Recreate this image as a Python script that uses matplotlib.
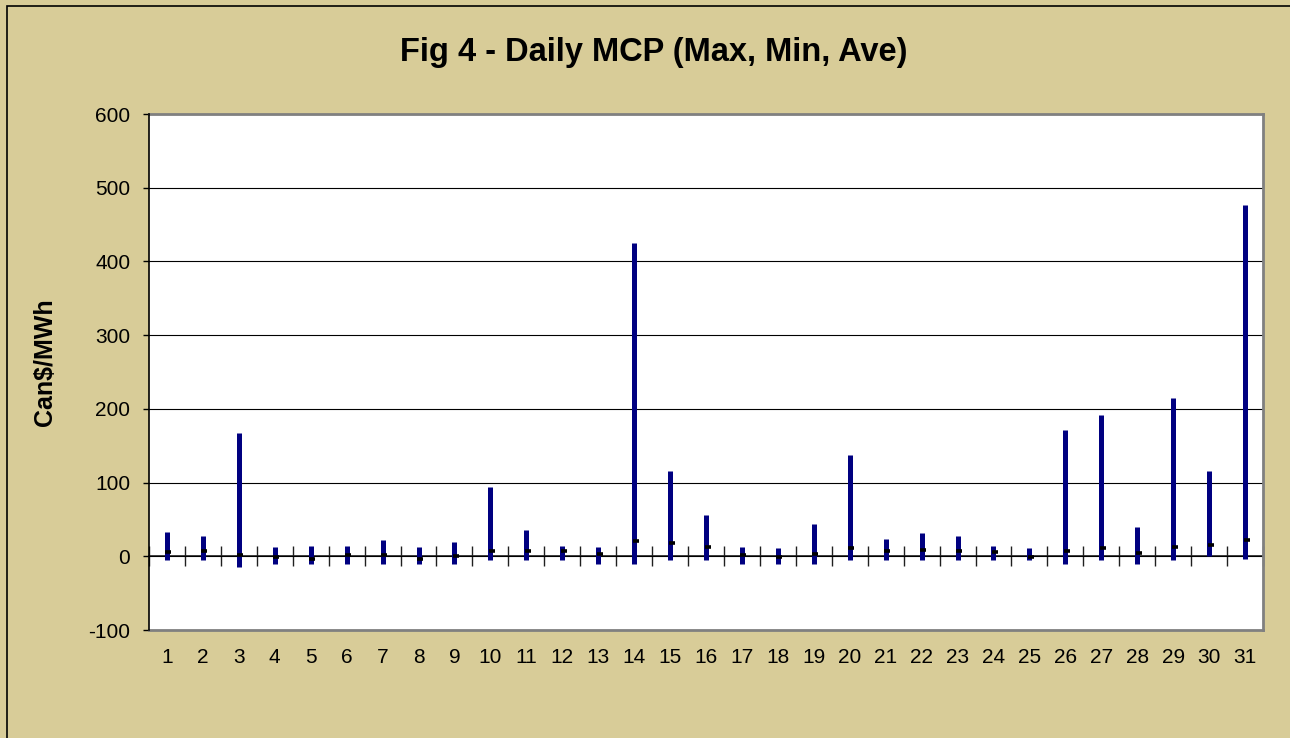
import numpy as np
import matplotlib
matplotlib.use('Agg')
import matplotlib.pyplot as plt
import matplotlib.patches as mpatches
from matplotlib.transforms import offset_copy

plt.rcParams['font.family'] = ['Liberation Sans', 'DejaVu Sans']
plt.rcParams['axes.unicode_minus'] = False

# Daily market clearing price, Can$/MWh
days = list(range(1, 32))
max_price = [33, 27, 167, 12, 14, 14, 22, 13, 19, 94, 36, 14, 13, 425, 116, 56,
             13, 11, 44, 138, 24, 32, 27, 14, 11, 171, 192, 40, 215, 116, 476]
min_price = [-5, -5, -15, -10, -10, -10, -10, -10, -10, -5, -5, -5, -10, -10, -5, -5,
             -10, -10, -10, -5, -5, -5, -5, -5, -5, -10, -5, -10, -5, 0, -4]
ave_price = [6.4, 6.8, 1.4, -0.9, -3.1, 1.4, 1.4, -3.1, 0.5, 7.7, 6.8, 6.8, 3.6, 20.9,
             17.7, 12.2, 1.4, -0.9, 2.7, 10.9, 7.2, 8.1, 7.7, 5.9, -0.5, 6.8, 11.4,
             4.1, 12.2, 15.9, 22.7]
y_ticks = [-100, 0, 100, 200, 300, 400, 500, 600]

bg = '#D8CC98'
W, H = 1290, 738
fig = plt.figure(figsize=(W / 100, H / 100), dpi=100, facecolor=bg)

# outer frame (only top/left visible in the reference)
fig.patches.append(mpatches.Rectangle((7 / W, -0.05), 1.1, 1 - 6 / H + 0.05,
                                      transform=fig.transFigure, fill=False,
                                      edgecolor='black', linewidth=1.2))

ax = fig.add_axes([149 / W, 1 - 630 / H, 1114 / W, 516 / H])
ax.set_facecolor('white')
ax.set_xlim(0.5, 31.5)
ax.set_ylim(-100, 600)

# high-low lines
ax.vlines(days, min_price, max_price, colors='#000080', linewidth=3.6, zorder=3)
# average markers, nudged a little to the right like the original
tr = offset_copy(ax.transData, fig=fig, x=1.5, y=0, units='dots')
ax.plot(days, ave_price, linestyle='none', marker='_', markersize=4.5,
        markeredgewidth=2.6, color='black', transform=tr, zorder=4)

ax.set_yticks(y_ticks)
ax.yaxis.grid(True, color='black', linewidth=0.8)
ax.set_axisbelow(True)
ax.tick_params(axis='y', direction='out', length=4.5, width=1, pad=9, labelsize=15)
ax.set_xticks(days)
ax.tick_params(axis='x', length=0, pad=13, labelsize=15)

for side in ['top', 'right', 'bottom']:
    ax.spines[side].set_color('#808080')
    ax.spines[side].set_linewidth(2)
ax.spines['left'].set_color('black')
ax.spines['left'].set_linewidth(1.2)
ax.spines['left'].set_zorder(5)

# category axis drawn across the zero line with tick marks between days
zero_pos = (0 - (-100)) / (600 - (-100))
sec = ax.secondary_xaxis(zero_pos)
sec.set_xticks(np.arange(0.5, 32, 1))
sec.tick_params(axis='x', direction='inout', length=14, width=1, labelbottom=False,
                labeltop=False, bottom=True, top=False, color='#202020')
sec.spines['bottom'].set_color('#202020')
sec.spines['bottom'].set_linewidth(1.2)
sec.spines['top'].set_color('#202020')
sec.spines['top'].set_linewidth(1.2)

fig.text(654 / W, 1 - 53 / H, 'Fig 4 - Daily MCP (Max, Min, Ave)', ha='center',
         va='center', fontsize=23.5, fontweight='bold')
fig.text(45 / W, 1 - 362 / H, 'Can$/MWh', ha='center', va='center', rotation=90,
         fontsize=18, fontweight='bold')

fig.savefig('out.png', dpi=100, facecolor=bg)
